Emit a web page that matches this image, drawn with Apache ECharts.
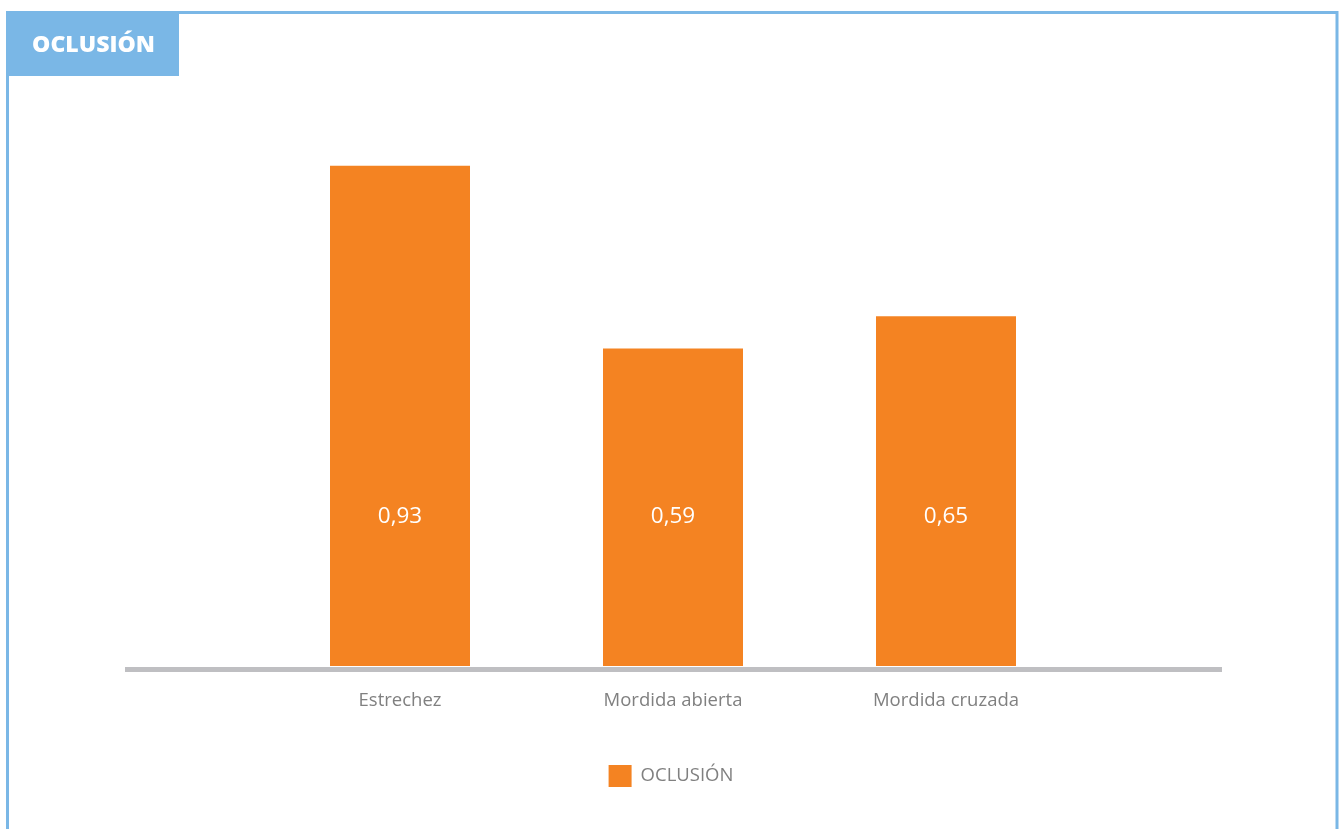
<!DOCTYPE html>
<html><head><meta charset="utf-8">
<script src="https://cdn.jsdelivr.net/npm/echarts@6/dist/echarts.min.js"></script>
<style>html,body{margin:0;padding:0;background:#fff}#c{width:1342px;height:829px}</style>
</head><body><div id="c"></div>
<script>
const categories = ['Estrechez', 'Mordida abierta', 'Mordida cruzada'];
const values = [0.93, 0.59, 0.65];
const seriesName = 'OCLUSIÓN';
const titleText = 'OCLUSIÓN';

const chart = echarts.init(document.getElementById('c'));
const blue = '#7ab7e6';
chart.setOption({
  animation: false,
  graphic: [
    { type: 'rect', shape: { x: 7.5, y: 12.5, width: 1329.5, height: 840 }, style: { fill: 'none', stroke: blue, lineWidth: 3 }, z: 10 },
    { type: 'rect', shape: { x: 6, y: 11, width: 173, height: 65 }, style: { fill: blue }, z: 11 },
    { type: 'text', x: 93.5, y: 45.5, style: { text: titleText, fill: '#fff', font: '800 23px "Open Sans"', textAlign: 'center', textVerticalAlign: 'middle' }, z: 12 }
  ],
  legend: {
    data: [seriesName], bottom: 37, left: 'center', itemWidth: 23, itemHeight: 22, itemGap: 10,
    icon: 'rect',
    textStyle: { color: '#808080', fontSize: 18.5, fontFamily: 'Open Sans', padding: [0, 0, 0, 4] }
  },
  grid: [
    { left: 263.5, width: 819, top: 128, bottom: 163 },
    { left: 125, width: 1097, top: 128, bottom: 160 }
  ],
  xAxis: [
    { type: 'category', data: categories, gridIndex: 0,
      axisLine: { show: false }, axisTick: { show: false },
      axisLabel: { color: '#808080', fontSize: 18.5, fontFamily: 'Open Sans', margin: 25 } },
    { type: 'value', gridIndex: 1, min: 0, max: 1,
      axisLine: { show: true, lineStyle: { color: '#bfbfc2', width: 5, cap: 'butt' } },
      axisTick: { show: false }, axisLabel: { show: false }, splitLine: { show: false } }
  ],
  yAxis: [
    { type: 'value', gridIndex: 0, min: 0, max: 1, show: false, splitLine: { show: false } },
    { type: 'value', gridIndex: 1, min: 0, max: 1, show: false, splitLine: { show: false } }
  ],
  series: [{
    name: seriesName, type: 'bar', data: values, barWidth: 140,
    xAxisIndex: 0, yAxisIndex: 0,
    itemStyle: { color: '#f48322' },
    label: { show: true, position: 'insideBottom', distance: 138, color: '#fff', fontSize: 22.5, fontFamily: 'Open Sans',
      formatter: p => p.value.toFixed(2).replace('.', ',') }
  }]
});
</script></body></html>
